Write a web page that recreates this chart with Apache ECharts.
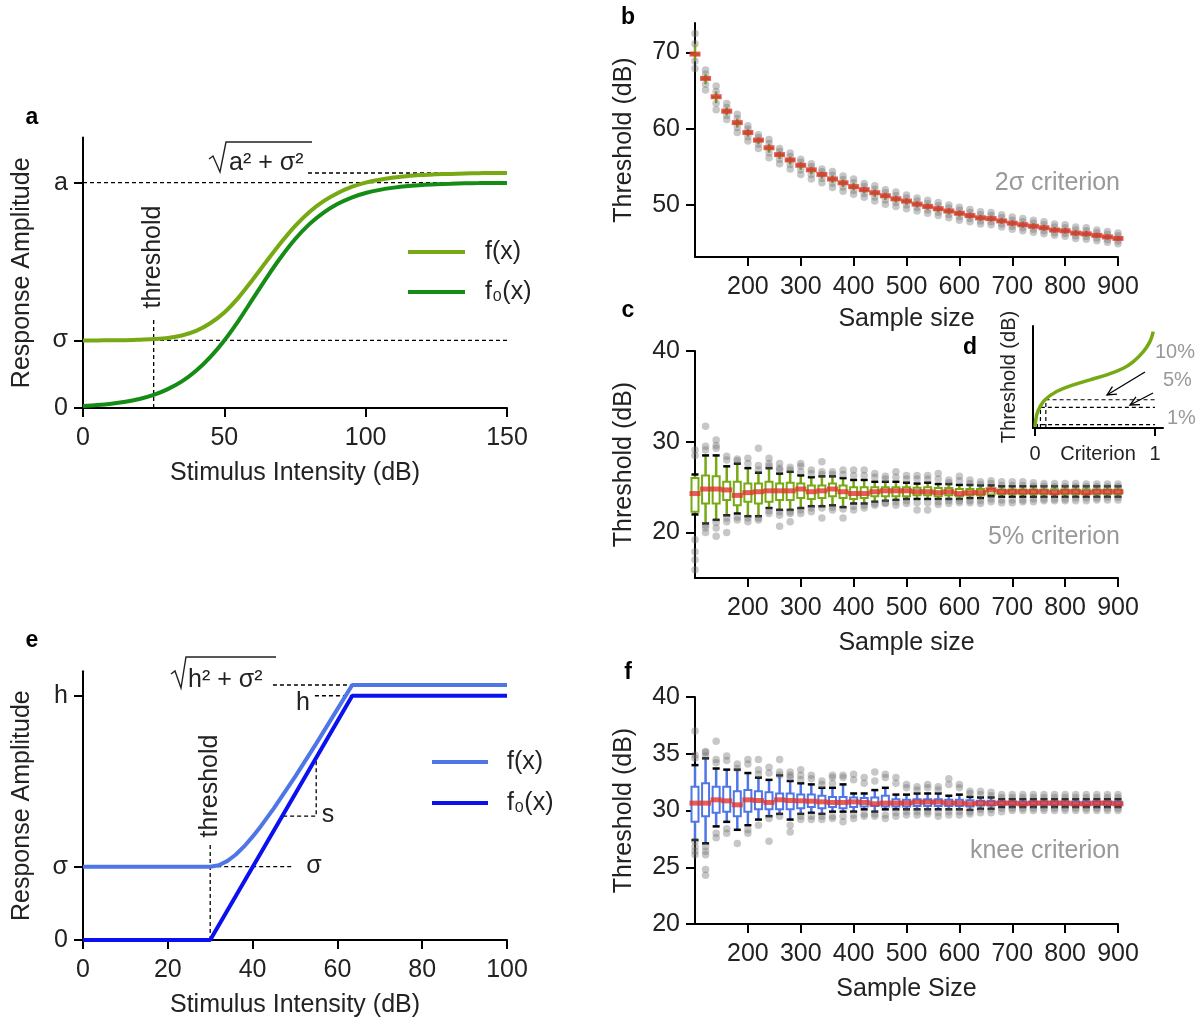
<!DOCTYPE html>
<html>
<head>
<meta charset="utf-8">
<script src="https://cdn.jsdelivr.net/npm/echarts@6/dist/echarts.min.js"></script>
<style>html,body{margin:0;padding:0;background:#fff;}#chart{width:1204px;height:1026px;}</style>
</head>
<body>
<div id="chart"></div>
<script>
// ---------- Panel a : sigmoid model ----------
const aStimulus = [0,5,10,15,20,25,30,35,40,45,50,55,60,65,70,75,80,85,90,95,100,105,110,115,120,125,130,135,140,145,150];
const aF0 = [0.009,0.013,0.019,0.028,0.040,0.058,0.084,0.118,0.165,0.226,0.300,0.387,0.483,0.579,0.669,0.749,0.815,0.866,0.905,0.934,0.954,0.968,0.978,0.985,0.990,0.993,0.995,0.997,0.998,0.999,0.999];
const aF  = [0.300,0.300,0.301,0.301,0.303,0.306,0.311,0.322,0.342,0.376,0.424,0.490,0.569,0.652,0.733,0.807,0.869,0.917,0.953,0.981,1.000,1.013,1.023,1.030,1.034,1.037,1.039,1.041,1.042,1.043,1.043];
const aSigma = 0.3, aA = 1.0, aSqrt = 1.043, aThreshold = 25;

// ---------- Panel e : hard-knee model ----------
const eF0Stimulus = [0,30,63.5,100];
const eF0 = [0,0,1,1];
const eFStimulus = [0,30,32,34,36,38,40,42,45,50,55,60,63.5,100];
const eF = [0.3,0.3,0.306,0.323,0.349,0.383,0.423,0.467,0.539,0.668,0.804,0.945,1.044,1.044];
const eSigma = 0.3, eH = 1.0, eSqrt = 1.044, eThreshold = 30;

// ---------- Panels b, c, f : simulation results ----------
const sampleSizes = [100,120,140,160,180,200,220,240,260,280,300,320,340,360,380,400,420,440,460,480,500,520,540,560,580,600,620,640,660,680,700,720,740,760,780,800,820,840,860,880,900];

const bMedian = [69.8,66.6,64.2,62.3,60.8,59.5,58.5,57.5,56.6,55.9,55.2,54.6,54.0,53.4,52.9,52.4,52.0,51.6,51.2,50.8,50.5,50.1,49.8,49.5,49.2,48.9,48.6,48.3,48.2,47.9,47.6,47.4,47.2,47.0,46.7,46.6,46.3,46.2,46.0,45.8,45.6];
const bHigh = [72.5,67.7,65.6,63.3,61.9,60.4,59.2,58.6,57.4,56.8,56.0,55.4,54.7,54.4,53.8,53.4,52.8,52.5,52.0,51.7,51.3,50.9,50.6,50.3,50.0,49.7,49.4,49.1,49.0,48.7,48.4,48.2,48.0,47.8,47.5,47.4,47.1,47.0,46.7,46.5,46.3];
const bLow = [67.9,65.1,62.5,61.2,59.5,58.4,57.4,56.2,55.4,54.7,54.0,53.4,52.9,52.3,51.8,51.4,51.0,50.5,50.1,49.8,49.5,49.2,48.9,48.6,48.3,48.0,47.8,47.5,47.4,47.1,46.8,46.6,46.4,46.2,46.0,45.9,45.6,45.5,45.3,45.1,44.9];

const cMedian = [24.3,24.8,24.8,24.7,24.1,24.4,24.5,24.6,24.6,24.6,24.8,24.5,24.6,24.8,24.5,24.3,24.3,24.5,24.6,24.6,24.6,24.5,24.5,24.4,24.5,24.3,24.4,24.4,24.7,24.5,24.5,24.5,24.5,24.5,24.4,24.5,24.5,24.4,24.5,24.5,24.5];
const cQ3 = [26.0,26.3,26.2,25.6,25.6,25.4,25.4,25.6,25.4,25.5,25.4,25.2,25.2,25.4,25.2,25.0,25.0,25.0,25.0,25.0,25.0,24.95,25.0,24.9,24.9,24.8,24.8,24.8,24.85,24.75,24.75,24.75,24.75,24.75,24.75,24.75,24.75,24.75,24.75,24.75,24.75];
const cQ1 = [22.3,23.2,23.2,23.6,23.0,23.4,23.2,23.4,23.6,23.6,23.8,23.7,23.8,24.0,23.8,23.7,23.8,24.0,24.0,24.0,24.0,24.1,24.1,24.0,24.1,24.0,24.1,24.1,24.2,24.25,24.25,24.25,24.25,24.25,24.25,24.25,24.25,24.25,24.25,24.25,24.25];
const cWhiskerHigh = [26.4,28.5,28.5,27.3,27.6,27.1,26.6,27.1,26.5,26.7,26.3,26.1,26.2,26.2,26.0,25.8,25.8,25.6,25.6,25.6,25.5,25.4,25.5,25.35,25.35,25.25,25.25,25.2,25.2,25.1,25.1,25.1,25.1,25.1,25.1,25.1,25.1,25.1,25.1,25.1,25.1];
const cWhiskerLow = [22.0,21.0,21.4,21.9,22.1,21.8,21.8,22.7,22.5,22.5,22.7,22.9,22.9,23.0,22.8,23.2,23.2,23.4,23.5,23.6,23.7,23.7,23.7,23.7,23.7,23.7,23.8,23.8,24.0,23.95,23.95,23.95,23.95,23.95,23.95,23.95,23.95,23.95,23.95,23.95,23.95];
const cOutliers = [
  [29.1,28.5,19.2,17.9,17.0,15.9],[31.7,29.5,29.1,20.8,20.5,20.0],[30.2,29.6,29.3,21.1,20.5,19.6],[28.4,28.0,21.6,21.2,20.0],
  [28.1,27.9,21.7,21.4],[28.2,27.6,21.6,21.2],[29.3,27.4,26.9,21.6,21.4],[28.2,27.6,27.3,22.4,22.1],
  [27.6,27.1,26.9,22.3,21.9,20.7],[27.2,26.9,22.3,22.1,21.2],[27.6,27.3,26.7,22.5,22.1],[26.9,26.5,22.7,22.3],
  [27.8,26.7,26.4,22.7,21.6],[26.7,26.4,22.8,22.5],[26.9,26.4,22.6,21.6],[26.9,26.3,22.9,22.5],
  [26.9,26.3,23.0,22.7],[26.5,26.1,23.2,23.0],[26.2,25.9,23.3,23.2],[26.7,26.1,23.4,23.0],
  [26.3,25.9,23.5,23.2],[26.3,25.9,23.3,22.5],[26.3,25.9,23.3,22.5],[26.5,25.9,23.4,23.1],
  [25.8,25.5,23.5,23.2],[26.2,25.7,23.5,23.3],[25.8,25.4,23.5,23.3],[25.6,25.3,23.5,23.2],
  [25.7,25.4,23.7,23.4],[25.6,25.2,23.6,23.3],[25.6,25.2,23.6,23.3],[25.6,25.2,23.6,23.4],
  [25.5,25.1,23.7,23.4],[25.4,25.1,23.7,23.5],[25.4,25.05,23.7,23.5],[25.4,25.05,23.7,23.5],
  [25.4,25.05,23.8,23.5],[25.35,25.05,23.8,23.5],[25.35,25.05,23.8,23.6],[25.35,25.05,23.9,23.6],[25.35,25.05,23.9,23.6]
];

const fMedian = [30.65,30.65,30.94,30.85,30.50,30.94,30.88,30.71,30.94,30.88,30.85,30.82,30.76,30.71,30.71,30.76,30.71,30.59,30.65,30.65,30.65,30.74,30.74,30.74,30.65,30.65,30.59,30.65,30.62,30.65,30.65,30.59,30.65,30.65,30.65,30.65,30.59,30.59,30.65,30.65,30.59];
const fQ3 = [32.1,32.4,32.1,32.1,31.7,31.8,31.7,31.6,31.5,31.5,31.4,31.4,31.3,31.2,31.2,31.15,31.1,31.15,31.3,31.0,30.95,31.0,31.0,31.0,30.95,30.95,30.9,30.85,30.85,30.8,30.8,30.8,30.8,30.8,30.8,30.8,30.8,30.8,30.8,30.8,30.8];
const fQ1 = [29.0,29.5,29.8,29.9,29.5,29.9,30.1,30.1,30.1,30.1,30.2,30.3,30.2,30.3,30.2,30.3,30.35,30.4,30.35,30.35,30.35,30.4,30.4,30.4,30.4,30.4,30.35,30.45,30.45,30.5,30.5,30.5,30.5,30.5,30.5,30.5,30.5,30.5,30.5,30.5,30.5];
const fWhiskerHigh = [34.0,34.6,33.7,33.6,33.6,33.3,32.9,32.7,33.1,32.6,32.4,32.3,32.0,32.0,32.3,31.5,31.5,31.8,32.0,31.4,31.4,31.5,31.5,31.5,31.3,31.4,31.2,31.15,31.15,31.0,31.0,31.0,31.0,31.0,31.0,31.0,31.0,31.0,31.0,31.0,31.0];
const fWhiskerLow = [27.4,27.1,28.6,29.0,28.3,28.7,29.2,29.5,29.7,29.2,29.7,29.8,29.7,29.9,29.9,29.9,30.1,29.9,30.1,30.1,30.1,30.1,30.1,30.1,30.1,30.1,30.05,30.15,30.15,30.3,30.3,30.3,30.3,30.3,30.3,30.3,30.3,30.3,30.3,30.3,30.3];
const fOutliers = [
  [37.0,34.9,34.6,27.3,26.8,26.4,26.1],[35.2,35.1,34.8,26.8,26.4,26.1,24.8,24.3],[36.1,34.5,34.2,28.0,27.6],[34.8,34.4,28.4,28.0],
  [34.1,33.7,27.1],[34.5,34.1,28.3,28.0],[34.5,33.6,33.2,28.7],[33.8,33.3,29.3,27.3],
  [34.5,33.4,33.1,29.5],[33.4,33.1,32.9,28.7,28.1],[33.6,33.1,32.7,29.5,29.2],[33.1,32.8,29.5,29.2],
  [32.6,32.3,29.5,29.2],[33.1,32.9,32.4,29.5,29.3],[33.1,32.9,29.5,29.0],[33.2,32.7,29.6,29.3],
  [32.9,32.4,29.7,29.5],[33.4,32.6,29.7,29.5],[33.2,32.9,29.6,29.3],[32.9,32.4,29.8,29.5],
  [32.3,32.0,29.9,29.6],[32.1,31.8,29.9,29.6],[32.3,32.0,29.9,29.7],[32.1,31.8,29.8,29.5],
  [32.8,32.3,29.9,29.6],[32.3,32.0,29.9,29.6],[31.7,31.5,29.9,29.7],[31.7,31.4,30.1,29.8],
  [31.6,31.3,30.1,29.8],[31.4,31.15,30.2,29.9],[31.4,31.15,30.2,30.0],[31.4,31.15,30.2,30.0],
  [31.4,31.15,30.2,30.0],[31.4,31.15,30.2,30.0],[31.4,31.15,30.2,30.0],[31.4,31.15,30.2,30.0],
  [31.4,31.15,30.2,30.0],[31.4,31.15,30.2,30.0],[31.4,31.15,30.2,30.0],[31.4,31.15,30.2,30.0],[31.4,31.15,30.2,30.0]
];

// ---------- Panel d : inset ----------
const dCriterion = [0.0,0.014,0.042,0.083,0.18,0.32,0.458,0.597,0.736,0.82,0.903,0.958,0.986];
const dThreshold = [0.01,0.13,0.21,0.277,0.358,0.423,0.472,0.521,0.586,0.651,0.749,0.847,0.945];
const dLevels = [0.277,0.202,0.033];      // 10%, 5%, 1% threshold levels
const dLevelX = [0.09,0.045,0.02];
const dLevelLabels = ['10%','5%','1%'];

// ---------- tick labels ----------
const aXTicks = [0,50,100,150];
const eXTicks = [0,20,40,60,80,100];
const sampleTicks = [200,300,400,500,600,700,800,900];
const bYTicks = [50,60,70];
const cYTicks = [20,30,40];
const fYTicks = [20,25,30,35,40];

// ---------- colours ----------
const GREEN_F = '#76a914', GREEN_F0 = '#158c15';
const BLUE_F = '#4f76e6', BLUE_F0 = '#0a10f0';
const RED = '#e0332d', DOT = 'rgba(115,115,115,0.5)';
const FONT = '"Liberation Sans", Arial, sans-serif';
const TXT = '#222';

const zip = (xs, ys) => xs.map((x, i) => [x, ys[i]]);

function axisBase(extra) {
  return Object.assign({
    type: 'value',
    axisLine: {show: true, onZero: false, lineStyle: {color: '#000', width: 2}},
    axisTick: {show: true, length: 9, lineStyle: {color: '#000', width: 2}},
    axisLabel: {fontSize: 25, color: TXT, fontFamily: FONT, margin: 15},
    splitLine: {show: false},
    nameTextStyle: {fontSize: 25, color: TXT, fontFamily: FONT},
    nameLocation: 'middle',
    nameMoveOverlap: false
  }, extra);
}
function ticks(values, fmt, margin) {
  return {
    axisTick: {show: true, length: 9, lineStyle: {color: '#000', width: 2}, customValues: values},
    axisLabel: {fontSize: 25, color: TXT, fontFamily: FONT, margin: margin || 15, customValues: values, formatter: fmt}
  };
}

function dashed(idx, pts, width) {
  return {type: 'line', xAxisIndex: idx, yAxisIndex: idx, data: pts, symbol: 'none', silent: true, z: 1,
    animation: false, lineStyle: {type: [4, 3], width: width || 1.3, color: '#000'}};
}

function boxRenderer(color, caps) {
  return function (params, api) {
    const x = api.value(0);
    const pLo = api.coord([x, api.value(1)]);
    const pQ1 = api.coord([x, api.value(2)]);
    const pQ3 = api.coord([x, api.value(3)]);
    const pHi = api.coord([x, api.value(4)]);
    const hw = 3.5;
    const ch = [
      {type: 'line', shape: {x1: pHi[0], y1: pHi[1], x2: pQ3[0], y2: pQ3[1]}, style: {stroke: color, lineWidth: 2.5}},
      {type: 'line', shape: {x1: pQ1[0], y1: pQ1[1], x2: pLo[0], y2: pLo[1]}, style: {stroke: color, lineWidth: 2.5}},
      {type: 'rect', shape: {x: pQ3[0] - hw, y: pQ3[1], width: 2 * hw, height: Math.max(pQ1[1] - pQ3[1], 0.5)},
        style: {stroke: color, fill: '#fff', lineWidth: 2}}
    ];
    if (caps) {
      ch.push({type: 'line', shape: {x1: pHi[0] - 3.5, y1: pHi[1], x2: pHi[0] + 3.5, y2: pHi[1]}, style: {stroke: '#000', lineWidth: 2.5}});
      ch.push({type: 'line', shape: {x1: pLo[0] - 3.5, y1: pLo[1], x2: pLo[0] + 3.5, y2: pLo[1]}, style: {stroke: '#000', lineWidth: 2.5}});
    }
    return {type: 'group', children: ch};
  };
}

// build data tables
const bBoxData = sampleSizes.map((s, i) => [s, (bLow[i] + bMedian[i]) / 2, bMedian[i], bMedian[i], (bHigh[i] + bMedian[i]) / 2]);
const bDots = [];
sampleSizes.forEach((s, i) => {
  [bHigh[i], (bHigh[i] + bMedian[i]) / 2, (bLow[i] + bMedian[i]) / 2, bLow[i]].forEach(v => bDots.push([s, v]));
});
const cBoxData = sampleSizes.map((s, i) => [s, cWhiskerLow[i], cQ1[i], cQ3[i], cWhiskerHigh[i]]);
const fBoxData = sampleSizes.map((s, i) => [s, fWhiskerLow[i], fQ1[i], fQ3[i], fWhiskerHigh[i]]);
const cDots = [], fDots = [];
sampleSizes.forEach((s, i) => {
  cOutliers[i].forEach(v => cDots.push([s, v]));
  fOutliers[i].forEach(v => fDots.push([s, v]));
});

function simSeries(idx, boxData, boxColor, caps, dots, medians) {
  return [
    {type: 'custom', xAxisIndex: idx, yAxisIndex: idx, data: boxData, renderItem: boxRenderer(boxColor, caps),
      clip: false, z: 2, animation: false, silent: true},
    {type: 'scatter', xAxisIndex: idx, yAxisIndex: idx, data: dots, symbolSize: 7.5, clip: false, z: 3,
      itemStyle: {color: DOT}, animation: false, silent: true},
    {type: 'scatter', xAxisIndex: idx, yAxisIndex: idx, data: zip(sampleSizes, medians), symbol: 'rect',
      symbolSize: [11, 5], clip: false, z: 4, itemStyle: {color: RED}, animation: false, silent: true}
  ];
}

const sampleX = (idx, name, gap) => axisBase(Object.assign({gridIndex: idx, min: 100, max: 900, name: name, nameGap: gap},
  ticks(sampleTicks, undefined, 18)));

const option = {
  backgroundColor: '#fff',
  animation: false,
  grid: [
    {left: 83, top: 137.6, width: 424, height: 270.4},   // a
    {left: 83, top: 671.3, width: 424, height: 268.7},   // e
    {left: 695, top: 23, width: 423, height: 234},       // b
    {left: 695, top: 351, width: 423, height: 227},      // c
    {left: 695, top: 697, width: 423, height: 227},      // f
    {left: 1033, top: 326, width: 130, height: 102}      // d inset
  ],
  xAxis: [
    axisBase(Object.assign({gridIndex: 0, min: 0, max: 150, name: 'Stimulus Intensity (dB)', nameGap: 53}, ticks(aXTicks, undefined, 18))),
    axisBase(Object.assign({gridIndex: 1, min: 0, max: 100, name: 'Stimulus Intensity (dB)', nameGap: 53}, ticks(eXTicks, undefined, 18))),
    sampleX(2, 'Sample size', 50),
    sampleX(3, 'Sample size', 53),
    sampleX(4, 'Sample Size', 53),
    axisBase({gridIndex: 5, min: -0.017, max: 1.067, name: 'Criterion', nameGap: 16,
      nameTextStyle: {fontSize: 20, color: TXT, fontFamily: FONT},
      axisTick: {show: true, length: 8, lineStyle: {color: '#000', width: 2}, customValues: [0, 1]},
      axisLabel: {fontSize: 20, color: TXT, fontFamily: FONT, margin: 16, customValues: [0, 1]}})
  ],
  yAxis: [
    axisBase(Object.assign({gridIndex: 0, min: 0, max: 1.2, name: 'Response Amplitude', nameGap: 48},
      ticks([0, aSigma, aA], v => v === 0 ? '0' : (Math.abs(v - aSigma) < 1e-6 ? 'σ' : 'a')))),
    axisBase(Object.assign({gridIndex: 1, min: 0, max: 1.1, name: 'Response Amplitude', nameGap: 48},
      ticks([0, eSigma, eH], v => v === 0 ? '0' : (Math.abs(v - eSigma) < 1e-6 ? 'σ' : 'h')))),
    axisBase(Object.assign({gridIndex: 2, min: 43.16, max: 73.88, name: 'Threshold (dB)', nameGap: 58}, ticks(bYTicks))),
    axisBase(Object.assign({gridIndex: 3, min: 15, max: 40, name: 'Threshold (dB)', nameGap: 58}, ticks(cYTicks))),
    axisBase(Object.assign({gridIndex: 4, min: 20, max: 40, name: 'Threshold (dB)', nameGap: 58}, ticks(fYTicks))),
    axisBase({gridIndex: 5, min: 0, max: 1, name: 'Threshold (dB)', nameGap: 14,
      nameTextStyle: {fontSize: 20, color: TXT, fontFamily: FONT},
      axisTick: {show: false}, axisLabel: {show: false}})
  ],
  series: [
    // panel a
    dashed(0, [[0, aA], [150, aA]]),
    dashed(0, [[0, aSigma], [150, aSigma]]),
    dashed(0, [[79.6, aSqrt], [150, aSqrt]]),
    dashed(0, [[aThreshold, 0], [aThreshold, 0.4]]),
    {type: 'line', name: 'a f(x)', xAxisIndex: 0, yAxisIndex: 0, data: zip(aStimulus, aF), smooth: 0.3, symbol: 'none',
      lineStyle: {color: GREEN_F, width: 4}, z: 3},
    {type: 'line', name: 'a f0(x)', xAxisIndex: 0, yAxisIndex: 0, data: zip(aStimulus, aF0), smooth: 0.3, symbol: 'none',
      lineStyle: {color: GREEN_F0, width: 4}, z: 3},
    // panel e
    dashed(1, [[eThreshold, 0], [eThreshold, 0.4]]),
    dashed(1, [[eThreshold, eSigma], [49.6, eSigma]]),
    dashed(1, [[47.2, 0.507], [55, 0.507], [55, 0.746]]),
    dashed(1, [[44.8, eSqrt], [63.5, eSqrt]]),
    dashed(1, [[54.7, eH], [63.5, eH]]),
    {type: 'line', name: 'e f(x)', xAxisIndex: 1, yAxisIndex: 1, data: zip(eFStimulus, eF), symbol: 'none',
      lineStyle: {color: BLUE_F, width: 4}, z: 3},
    {type: 'line', name: 'e f0(x)', xAxisIndex: 1, yAxisIndex: 1, data: zip(eF0Stimulus, eF0), symbol: 'none',
      lineStyle: {color: BLUE_F0, width: 4}, z: 3},
    // panels b, c, f
    ...simSeries(2, bBoxData, GREEN_F, false, bDots, bMedian),
    ...simSeries(3, cBoxData, GREEN_F, true, cDots, cMedian),
    ...simSeries(4, fBoxData, BLUE_F, true, fDots, fMedian),
    // panel d inset
    ...dLevels.map((lv, i) => dashed(5, [[dLevelX[i], 0], [dLevelX[i], lv], [1.0, lv]], 1.2)),
    {type: 'line', xAxisIndex: 5, yAxisIndex: 5, data: zip(dCriterion, dThreshold), smooth: 0.4, symbol: 'none',
      lineStyle: {color: GREEN_F, width: 3.5}, z: 3}
  ]
};

// ---------- text annotations / legends (graphic) ----------
const g = [];
function txt(x, y, text, opt) {
  g.push(Object.assign({type: 'text', x: x, y: y, style: Object.assign({text: text, fill: TXT, font: '25px ' + FONT,
    align: 'center', verticalAlign: 'middle'}, opt && opt.style || {})}, opt && opt.extra || {}));
}
function seg(x1, y1, x2, y2, color, w) {
  g.push({type: 'line', shape: {x1, y1, x2, y2}, style: {stroke: color, lineWidth: w}});
}
function arrow(x1, y1, x2, y2) {
  seg(x1, y1, x2, y2, '#000', 1.3);
  const a = Math.atan2(y1 - y2, x1 - x2), L = 10, t = 0.45;
  g.push({type: 'polyline', shape: {points: [[x2 + L * Math.cos(a + t), y2 + L * Math.sin(a + t)], [x2, y2],
    [x2 + L * Math.cos(a - t), y2 + L * Math.sin(a - t)]]}, style: {stroke: '#000', lineWidth: 1.3, fill: null}});
}
// panel letters
[['a', 32, 118], ['b', 628, 18], ['c', 628, 311], ['d', 970, 348], ['e', 32, 641], ['f', 628, 673]].forEach(p =>
  txt(p[1], p[2], p[0], {style: {font: 'bold 23px ' + FONT, fill: '#000'}}));
// sqrt expressions
g.push({type: 'polyline', shape: {points: [[209, 159], [213, 156], [220, 172], [226, 142], [312, 142]]}, style: {stroke: TXT, lineWidth: 1.4, fill: null}});
txt(229, 163, 'a² + σ²', {style: {align: 'left'}});
g.push({type: 'polyline', shape: {points: [[171, 674], [175, 671], [181, 688], [186, 657], [276, 657]]}, style: {stroke: TXT, lineWidth: 1.4, fill: null}});
txt(188, 680, 'h² + σ²', {style: {align: 'left'}});
// threshold labels
txt(153, 257, 'threshold', {extra: {rotation: Math.PI / 2}});
txt(210, 786, 'threshold', {extra: {rotation: Math.PI / 2}});
txt(314, 866, 'σ');
txt(303, 703, 'h');
txt(328, 815, 's');
// criterion labels
txt(1120, 183, '2σ criterion', {style: {align: 'right', fill: '#999'}});
txt(1120, 537, '5% criterion', {style: {align: 'right', fill: '#999'}});
txt(1120, 851, 'knee criterion', {style: {align: 'right', fill: '#999'}});
// inset labels & arrows
txt(1155, 352, dLevelLabels[0], {style: {align: 'left', fill: '#999', font: '20px ' + FONT}});
txt(1163, 380, dLevelLabels[1], {style: {align: 'left', fill: '#999', font: '20px ' + FONT}});
txt(1167, 418, dLevelLabels[2], {style: {align: 'left', fill: '#999', font: '20px ' + FONT}});
arrow(1145, 372, 1107, 395);
arrow(1153, 393, 1130, 405);
// legends
seg(408, 252, 465, 252, GREEN_F, 4); txt(485, 252, 'f(x)', {style: {align: 'left'}});
seg(408, 292, 465, 292, GREEN_F0, 4); txt(485, 292, 'f₀(x)', {style: {align: 'left'}});
seg(432, 762, 488, 762, BLUE_F, 4); txt(507, 762, 'f(x)', {style: {align: 'left'}});
seg(432, 803, 488, 803, BLUE_F0, 4); txt(507, 803, 'f₀(x)', {style: {align: 'left'}});
option.graphic = g;

const chart = echarts.init(document.getElementById('chart'), null, {renderer: 'canvas', width: 1204, height: 1026});
chart.setOption(option);
</script>
</body>
</html>
